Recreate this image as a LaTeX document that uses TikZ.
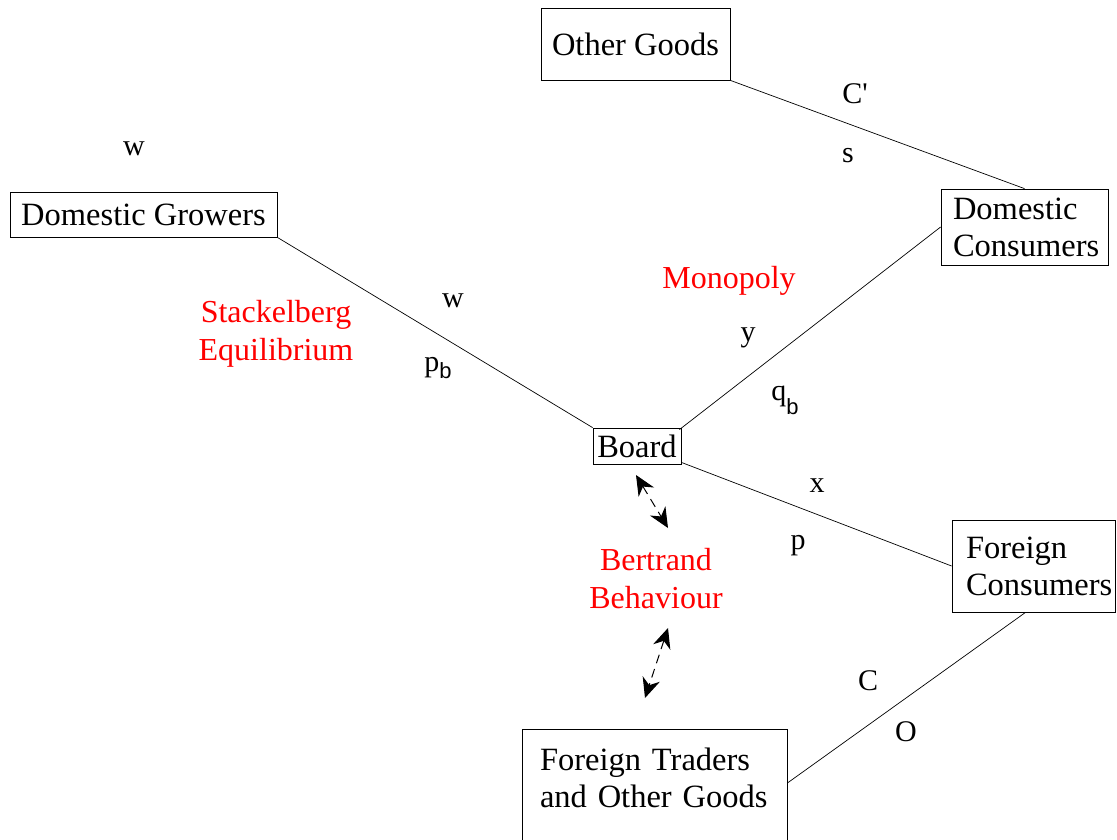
\documentclass[tikz,border=0pt]{standalone}
\usepackage{fontspec}
\setmainfont{Liberation Serif}
\setsansfont{Liberation Sans}
\usetikzlibrary{arrows.meta,calc}
\begin{document}
\begin{tikzpicture}[x=1pt,y=-1pt,
  box/.style={draw,line width=0.8pt,inner sep=0pt,font=\fontsize{32.5}{37}\selectfont},
  red label/.style={text=red,align=center,font=\fontsize{32}{38}\selectfont},
  lbl/.style={font=\fontsize{30}{32}\selectfont},
  conn/.style={line width=0.7pt},
  dbl/.style={line width=1pt,dash pattern=on 9pt off 6pt,
    {Stealth[length=20pt,width=18pt]}-{Stealth[length=20pt,width=18pt]}}]
\useasboundingbox (0,0) rectangle (1117,839);
% boxes
\node[box,minimum width=189pt,minimum height=72pt] (og) at (635.5,44) {Other Goods};
\node[box,minimum width=267pt,minimum height=45pt] (dg) at (143.5,214.5) {Domestic Growers};
\node[box,minimum width=167pt,minimum height=76pt,align=left,text width=143pt] (dc) at (1024.5,227) {Domestic\\Consumers};
\node[box,minimum width=88pt,minimum height=36pt] (board) at (637,446) {Board};
\node[box,minimum width=163pt,minimum height=92pt,align=left,text width=135pt] (fc) at (1033.5,566) {Foreign\\Consumers};
\node[box,minimum width=265pt,minimum height=146pt,align=left,text width=229pt] (ft) at (654.5,802) {Foreign Traders\\and Other Goods\\ \strut};
% connectors
\draw[conn] (og.south east) -- (dc.north);
\draw[conn] (dg.south east) -- (board.north west);
\draw[conn] ($(board.north east)+(-2,2)$) -- (dc.west);
\draw[conn] ($(board.south east)+(0,-2)$) -- (fc.west);
\draw[conn] ($(ft.east)+(0,-19)$) -- ($(fc.south)+(-8,0)$);
% dashed double arrows
\coordinate (a1) at (636,475);
\coordinate (a2) at (668,528);
\coordinate (b1) at (668,628);
\coordinate (b2) at (645,698);
\draw[dbl] (a1) -- (a2);
\draw[dbl] (b1) -- (b2);
% red labels
\node[red label] (stack) at (276,334) {Stackelberg\\Equilibrium};
\node[red label] (mono) at (729,281) {Monopoly};
\node[red label] (bert) at (656,579) {Bertrand\\Behaviour};
% letter labels
\node[lbl] (w1) at (134,149) {w};
\node[lbl] (w2) at (453,301) {w};
\node[lbl] (pb) at (438,368) {p\raisebox{-7pt}{\sffamily\fontsize{22}{22}\selectfont b}};
\node[lbl] (y) at (748,338) {y};
\node[lbl] (qb) at (785,400) {q\raisebox{-14pt}{\sffamily\fontsize{22}{22}\selectfont b}};
\node[lbl] (cp) at (855,94) {C\textquotesingle};
\node[lbl] (s) at (848,156) {s};
\node[lbl] (x) at (817,486) {x};
\node[lbl] (p) at (798,546) {p};
\node[lbl] (c) at (868,681) {C};
\node[lbl] (o) at (906,732) {O};
\end{tikzpicture}
\end{document}
